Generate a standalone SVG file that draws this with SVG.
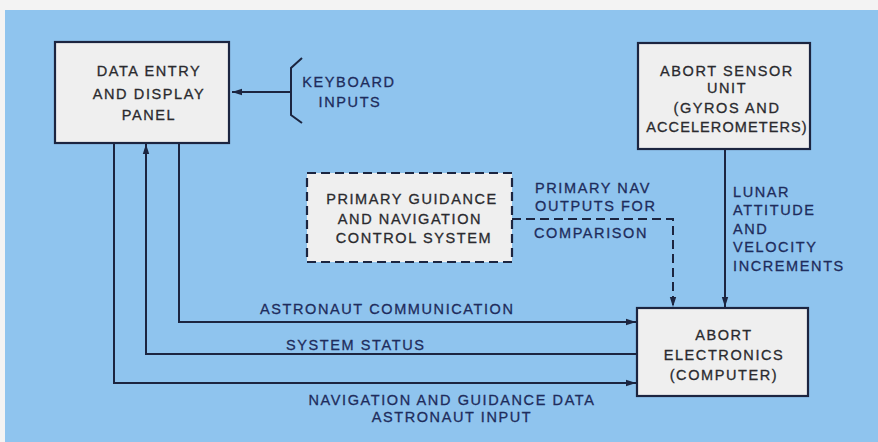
<svg xmlns="http://www.w3.org/2000/svg" width="878" height="442" viewBox="0 0 878 442">
<defs>
<style>
.box{fill:#efefef;stroke:#1c2540;stroke-width:2.2}
.dbox{fill:#efefef;stroke:#1c2540;stroke-width:2.2;stroke-dasharray:9 5}
.bt{font-family:"Liberation Sans",Arial,sans-serif;font-size:14.5px;letter-spacing:1.6px;fill:#2a2a2e;stroke:#2a2a2e;stroke-width:0.3;text-anchor:middle}
.lb{font-family:"Liberation Sans",Arial,sans-serif;font-size:14.5px;letter-spacing:1.6px;fill:#1e2c5c;stroke:#1e2c5c;stroke-width:0.3}
.ln{fill:none;stroke:#1c2540;stroke-width:2}
.dl{fill:none;stroke:#1c2540;stroke-width:2;stroke-dasharray:9 5}
</style>
<marker id="ah" markerUnits="userSpaceOnUse" markerWidth="12" markerHeight="8" refX="10" refY="4" orient="auto">
<path d="M0,0.8 L10,4 L0,7.2 Z" fill="#1c2540"/>
</marker>
</defs>
<rect x="0" y="0" width="878" height="442" fill="#f3f3f3"/>
<rect x="5" y="10" width="873" height="432" fill="#8fc4ee"/>

<g id="connectors">
<path class="ln" d="M291,92 L232,92" marker-end="url(#ah)"/>
<path class="ln" d="M302,58 L291,68 L291,115 L302,123"/>
<path class="ln" d="M179,143 L179,322 L636,322" marker-end="url(#ah)"/>
<path class="ln" d="M637,354 L146,354 L146,144" marker-end="url(#ah)"/>
<path class="ln" d="M114,143 L114,383 L636,383" marker-end="url(#ah)"/>
<path class="dl" d="M512,219 L673,219 L673,307" marker-end="url(#ah)"/>
<path class="ln" d="M725,149 L725,307" marker-end="url(#ah)"/>
</g>

<g id="data-entry">
<rect class="box" x="55" y="42" width="174" height="101"/>
<text class="bt" x="149" y="76">DATA ENTRY</text>
<text class="bt" x="149" y="98.5">AND DISPLAY</text>
<text class="bt" x="149" y="120">PANEL</text>
</g>

<g id="abort-sensor">
<rect class="box" x="638" y="43" width="172" height="106"/>
<text class="bt" x="727" y="75.5">ABORT SENSOR</text>
<text class="bt" x="727" y="92.5">UNIT</text>
<text class="bt" x="727" y="112.5">(GYROS AND</text>
<text class="bt" x="727" y="131.5" style="letter-spacing:1.1px">ACCELEROMETERS)</text>
</g>

<g id="primary-guidance">
<rect class="dbox" x="307" y="173" width="205" height="89"/>
<text class="bt" x="412" y="203.5">PRIMARY GUIDANCE</text>
<text class="bt" x="410" y="223.5">AND NAVIGATION</text>
<text class="bt" x="414" y="243">CONTROL SYSTEM</text>
</g>

<g id="abort-electronics">
<rect class="box" x="637" y="308" width="171" height="88"/>
<text class="bt" x="724" y="339.5">ABORT</text>
<text class="bt" x="724" y="359.5">ELECTRONICS</text>
<text class="bt" x="724" y="380">(COMPUTER)</text>
</g>

<g id="keyboard-inputs">
<text class="lb" x="349" y="87" text-anchor="middle">KEYBOARD</text>
<text class="lb" x="350" y="106.5" text-anchor="middle">INPUTS</text>
</g>

<g id="labels">
<text class="lb" x="535" y="192.5">PRIMARY NAV</text>
<text class="lb" x="535" y="211">OUTPUTS FOR</text>
<text class="lb" x="534" y="238">COMPARISON</text>
<text class="lb" x="733" y="196.5">LUNAR</text>
<text class="lb" x="733" y="215">ATTITUDE</text>
<text class="lb" x="733" y="233.5">AND</text>
<text class="lb" x="733" y="252">VELOCITY</text>
<text class="lb" x="733" y="270.5">INCREMENTS</text>
<text class="lb" x="260" y="313.5">ASTRONAUT COMMUNICATION</text>
<text class="lb" x="286" y="349.5">SYSTEM STATUS</text>
<text class="lb" x="452" y="405" text-anchor="middle">NAVIGATION AND GUIDANCE DATA</text>
<text class="lb" x="452" y="422" text-anchor="middle">ASTRONAUT INPUT</text>
</g>
</svg>
